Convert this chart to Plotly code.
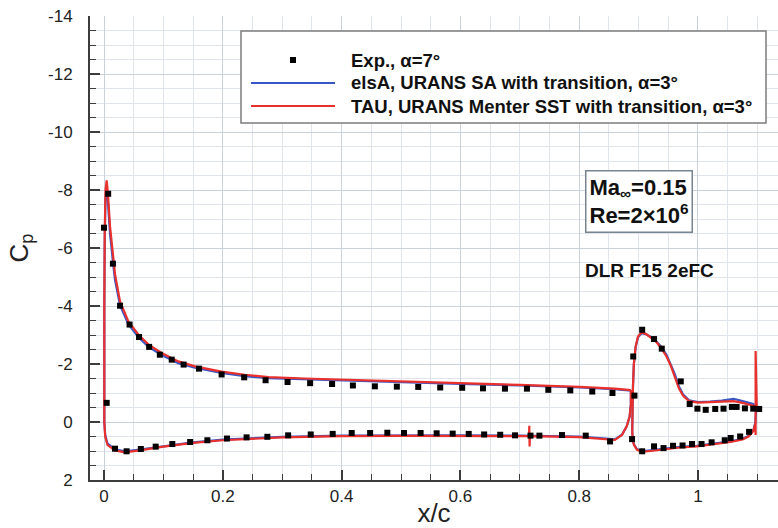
import plotly.graph_objects as go

FONT = "Liberation Sans, Arial, Helvetica, sans-serif"

# ---------------- Experimental data (alpha = 7 deg) ----------------
exp_main_upper_x = [0.000, 0.007, 0.015, 0.027, 0.043, 0.059, 0.076, 0.094, 0.114, 0.134,
                    0.160, 0.198, 0.236, 0.272, 0.309, 0.347, 0.384, 0.419, 0.456, 0.493,
                    0.529, 0.566, 0.603, 0.638, 0.675, 0.712, 0.748, 0.785, 0.822, 0.856]
exp_main_upper_cp = [-6.70, -7.87, -5.46, -4.01, -3.36, -2.93, -2.59, -2.32, -2.15, -1.98,
                     -1.84, -1.64, -1.54, -1.44, -1.38, -1.34, -1.31, -1.26, -1.23, -1.22,
                     -1.21, -1.19, -1.18, -1.16, -1.15, -1.15, -1.11, -1.09, -1.05, -1.00]
exp_main_lower_x = [0.0045, 0.0185, 0.038, 0.062, 0.087, 0.115, 0.145, 0.174, 0.207, 0.240,
                    0.275, 0.310, 0.348, 0.385, 0.417, 0.448, 0.477, 0.505, 0.533, 0.560,
                    0.587, 0.614, 0.640, 0.667, 0.692, 0.718, 0.733, 0.771, 0.811, 0.852]
exp_main_lower_cp = [-0.66, 0.92, 1.01, 0.93, 0.85, 0.76, 0.69, 0.63, 0.57, 0.53,
                     0.51, 0.46, 0.43, 0.41, 0.38, 0.38, 0.37, 0.38, 0.38, 0.39,
                     0.40, 0.41, 0.43, 0.44, 0.46, 0.47, 0.47, 0.45, 0.47, 0.67]
exp_flap_upper_x = [0.891, 0.893, 0.906, 0.926, 0.939, 0.971, 0.986, 0.999, 1.013, 1.029,
                    1.043, 1.057, 1.065, 1.079, 1.093, 1.103]
exp_flap_upper_cp = [-2.26, -0.91, -3.18, -2.86, -2.53, -1.40, -0.62, -0.46, -0.42, -0.45,
                     -0.46, -0.52, -0.52, -0.47, -0.46, -0.45]
exp_flap_lower_x = [0.889, 0.906, 0.926, 0.942, 0.958, 0.974, 0.990, 1.006, 1.023, 1.045,
                    1.055, 1.071, 1.086]
exp_flap_lower_cp = [0.59, 1.01, 0.84, 0.90, 0.82, 0.81, 0.76, 0.76, 0.70, 0.63,
                     0.55, 0.50, 0.34]

# ---------------- TAU, URANS Menter SST (red) ----------------
tau_main_x = [0.887, 0.860, 0.800, 0.750, 0.700, 0.600, 0.500, 0.400, 0.338, 0.277,
              0.237, 0.198, 0.153, 0.125, 0.097, 0.075, 0.058, 0.041, 0.027, 0.0185,
              0.0157, 0.0101, 0.0065, 0.0045, 0.0025, 0.0012, 0.0005, 0.0002, 0.0005, 0.002,
              0.006, 0.0185, 0.035, 0.060, 0.100, 0.150, 0.200, 0.300, 0.400, 0.500,
              0.600, 0.700, 0.7155, 0.716, 0.7165, 0.717, 0.800, 0.840, 0.860, 0.872,
              0.880, 0.885, 0.887, 0.887]
tau_main_cp = [-1.10, -1.15, -1.21, -1.25, -1.28, -1.34, -1.40, -1.45, -1.50, -1.55,
               -1.63, -1.74, -1.92, -2.09, -2.38, -2.67, -3.01, -3.47, -4.15, -5.10,
               -5.60, -6.75, -7.90, -8.33, -8.00, -6.50, -4.00, -1.50, 0.00, 0.50,
               0.80, 0.98, 1.05, 0.98, 0.85, 0.72, 0.63, 0.53, 0.49, 0.48,
               0.48, 0.49, 0.49, 0.13, 0.84, 0.49, 0.52, 0.58, 0.62, 0.45,
               0.15, -0.20, -0.60, -1.10]
tau_flap_x = [1.100, 1.093, 1.075, 1.060, 1.040, 1.020, 1.000, 0.985, 0.975, 0.968,
              0.961, 0.954, 0.947, 0.938, 0.929, 0.920, 0.912, 0.905, 0.899, 0.895,
              0.892, 0.8905, 0.8895, 0.8893, 0.890, 0.892, 0.897, 0.905, 0.920, 0.942,
              0.970, 0.998, 1.030, 1.055, 1.075, 1.085, 1.093, 1.0965, 1.097, 1.097,
              1.099, 1.100]
tau_flap_cp = [-0.45, -0.56, -0.66, -0.72, -0.70, -0.68, -0.67, -0.72, -0.90, -1.15,
               -1.57, -1.95, -2.26, -2.55, -2.78, -2.93, -3.04, -3.09, -2.95, -2.60,
               -2.00, -1.20, -0.30, 0.30, 0.60, 0.78, 0.95, 1.03, 1.00, 0.94,
               0.88, 0.84, 0.77, 0.69, 0.60, 0.50, 0.32, 0.05, 0.45, -2.45,
               -0.45, -0.45]

# ---------------- elsA, URANS SA (blue) ----------------
elsa_main_x = [0.887, 0.860, 0.800, 0.750, 0.700, 0.600, 0.500, 0.400, 0.338, 0.277,
               0.237, 0.198, 0.153, 0.125, 0.097, 0.075, 0.058, 0.041, 0.027, 0.0185,
               0.0157, 0.0101, 0.0065, 0.0045, 0.0025, 0.0012, 0.0005, 0.0002, 0.0005, 0.002,
               0.006, 0.0185, 0.035, 0.060, 0.100, 0.150, 0.200, 0.300, 0.400, 0.500,
               0.600, 0.700, 0.800, 0.840, 0.860, 0.872, 0.880, 0.885, 0.887, 0.887]
elsa_main_cp = [-1.08, -1.13, -1.19, -1.23, -1.26, -1.31, -1.37, -1.42, -1.46, -1.51,
                -1.58, -1.69, -1.87, -2.03, -2.31, -2.59, -2.92, -3.37, -4.02, -4.90,
                -5.40, -6.50, -7.60, -7.95, -7.70, -6.30, -3.90, -1.50, 0.00, 0.45,
                0.75, 0.94, 1.01, 0.95, 0.83, 0.70, 0.61, 0.51, 0.47, 0.46,
                0.46, 0.47, 0.50, 0.56, 0.60, 0.44, 0.15, -0.20, -0.60, -1.08]
elsa_flap_x = [1.098, 1.093, 1.075, 1.060, 1.040, 1.020, 1.000, 0.985, 0.975, 0.968,
               0.961, 0.954, 0.947, 0.938, 0.929, 0.920, 0.912, 0.905, 0.899, 0.895,
               0.892, 0.8905, 0.8895, 0.8893, 0.890, 0.892, 0.897, 0.905, 0.920, 0.942,
               0.970, 0.998, 1.030, 1.055, 1.075, 1.085, 1.093, 1.0965, 1.098]
elsa_flap_cp = [-0.50, -0.62, -0.72, -0.80, -0.74, -0.70, -0.69, -0.75, -0.95, -1.22,
                -1.65, -2.02, -2.32, -2.60, -2.80, -2.94, -3.03, -3.06, -2.92, -2.58,
                -1.98, -1.20, -0.30, 0.30, 0.58, 0.76, 0.93, 1.01, 0.98, 0.92,
                0.86, 0.82, 0.75, 0.67, 0.58, 0.48, 0.30, 0.03, -0.50]

# ---------------- Axis ticks ----------------
x_tick_vals = [0, 0.2, 0.4, 0.6, 0.8, 1.0]
x_tick_text = ["0", "0.2", "0.4", "0.6", "0.8", "1"]
y_tick_vals = [-14, -12, -10, -8, -6, -4, -2, 0, 2]
y_tick_text = ["-14", "-12", "-10", "-8", "-6", "-4", "-2", "0", "2"]

legend_labels = ["Exp., α=7°",
                 "elsA, URANS SA with transition, α=3°",
                 "TAU, URANS Menter SST with transition, α=3°"]

RED = "#e8302c"
BLUE = "#3a56c6"

fig = go.Figure()
fig.add_trace(go.Scatter(x=elsa_main_x, y=elsa_main_cp, mode="lines",
                         line=dict(color=BLUE, width=2.2), name=legend_labels[1]))
fig.add_trace(go.Scatter(x=elsa_flap_x, y=elsa_flap_cp, mode="lines",
                         line=dict(color=BLUE, width=2.2), showlegend=False))
fig.add_trace(go.Scatter(x=tau_main_x, y=tau_main_cp, mode="lines",
                         line=dict(color=RED, width=2.2), name=legend_labels[2]))
fig.add_trace(go.Scatter(x=tau_flap_x, y=tau_flap_cp, mode="lines",
                         line=dict(color=RED, width=2.2), showlegend=False))
exp_x = exp_main_upper_x + exp_main_lower_x + exp_flap_upper_x + exp_flap_lower_x
exp_cp = exp_main_upper_cp + exp_main_lower_cp + exp_flap_upper_cp + exp_flap_lower_cp
fig.add_trace(go.Scatter(x=exp_x, y=exp_cp, mode="markers",
                         marker=dict(symbol="square", size=6, color="black"),
                         name=legend_labels[0]))

# plot area in pixels: x 90..778, y 16..480
PL, PR, PT, PB = 90, 778, 16, 480


def px(xp):
    return (xp - PL) / (PR - PL)


def py(yp):
    return (PB - yp) / (PB - PT)


shapes = [
    dict(type="rect", xref="paper", yref="paper", x0=px(241), x1=px(766), y0=py(123), y1=py(31),
         fillcolor="white", line=dict(color="#7c7c7c", width=1.5), layer="above"),
    dict(type="rect", xref="paper", yref="paper", x0=px(290), x1=px(296), y0=py(63), y1=py(57),
         fillcolor="black", line=dict(width=0)),
    dict(type="line", xref="paper", yref="paper", x0=px(251), x1=px(335), y0=py(83), y1=py(83),
         line=dict(color=BLUE, width=2.2)),
    dict(type="line", xref="paper", yref="paper", x0=px(251), x1=px(335), y0=py(106), y1=py(106),
         line=dict(color=RED, width=2.2)),
]

annotations = []
for lab, yy in zip(legend_labels, [60, 83, 106]):
    annotations.append(dict(xref="paper", yref="paper", x=px(349), y=py(yy), text="<b>" + lab + "</b>",
                            showarrow=False, xanchor="left", yanchor="middle",
                            font=dict(family=FONT, size=18.5, color="#111")))
annotations.append(dict(xref="paper", yref="paper", x=px(638.5), y=py(201.5),
                        text="<b>Ma<sub>∞</sub>=0.15<br>Re=2×10<sup>6</sup></b>",
                        showarrow=False, xanchor="center", yanchor="middle", align="left",
                        bgcolor="white", bordercolor="#76858f", borderwidth=1.5, borderpad=3,
                        font=dict(family=FONT, size=22, color="#111")))
annotations.append(dict(xref="paper", yref="paper", x=px(583), y=py(270),
                        text="<b>DLR F15 2eFC</b>", showarrow=False, xanchor="left", yanchor="middle",
                        font=dict(family=FONT, size=19, color="#111")))

GRID_MAJ = "#c9d1d9"
GRID_MIN = "#dfe5eb"
AX = "#3c3c3c"

fig.update_layout(
    width=778, height=528,
    margin=dict(l=PL, r=778 - PR, t=PT, b=528 - PB, autoexpand=False),
    plot_bgcolor="white", paper_bgcolor="white",
    showlegend=False,
    font=dict(family=FONT, size=16, color="#222"),
    shapes=shapes, annotations=annotations,
    xaxis=dict(range=[-0.0236, 1.1347], tickmode="array", tickvals=x_tick_vals, ticktext=x_tick_text,
               ticks="inside", ticklen=10, tickwidth=1.5, tickcolor=AX,
               showline=True, linecolor=AX, linewidth=2, mirror=False, automargin=False,
               showgrid=True, gridcolor=GRID_MAJ, gridwidth=1, zeroline=False,
               minor=dict(tickmode="linear", tick0=0, dtick=0.05, ticks="inside", ticklen=6,
                          tickwidth=1.2, tickcolor=AX, showgrid=True, gridcolor=GRID_MIN, gridwidth=1),
               tickfont=dict(size=17, color="#222"),
               title=dict(text="x/c", font=dict(size=26, color="#222"))),
    yaxis=dict(range=[2, -14], tickmode="array", tickvals=y_tick_vals, ticktext=y_tick_text,
               ticks="inside", ticklen=10, tickwidth=1.5, tickcolor=AX,
               showline=True, linecolor=AX, linewidth=2, mirror=False, automargin=False,
               showgrid=True, gridcolor=GRID_MAJ, gridwidth=1, zeroline=False,
               minor=dict(tickmode="linear", tick0=0, dtick=0.5, ticks="inside", ticklen=6,
                          tickwidth=1.2, tickcolor=AX, showgrid=True, gridcolor=GRID_MIN, gridwidth=1),
               tickfont=dict(size=17, color="#222"), ticklabelstandoff=12,
               title=dict(text="C<sub>p</sub>", font=dict(size=26, color="#222"), standoff=12)),
)

fig.write_html("out.html", config={"displayModeBar": False},
               post_script="document.body.style.margin='0';document.body.style.overflow='hidden';")
